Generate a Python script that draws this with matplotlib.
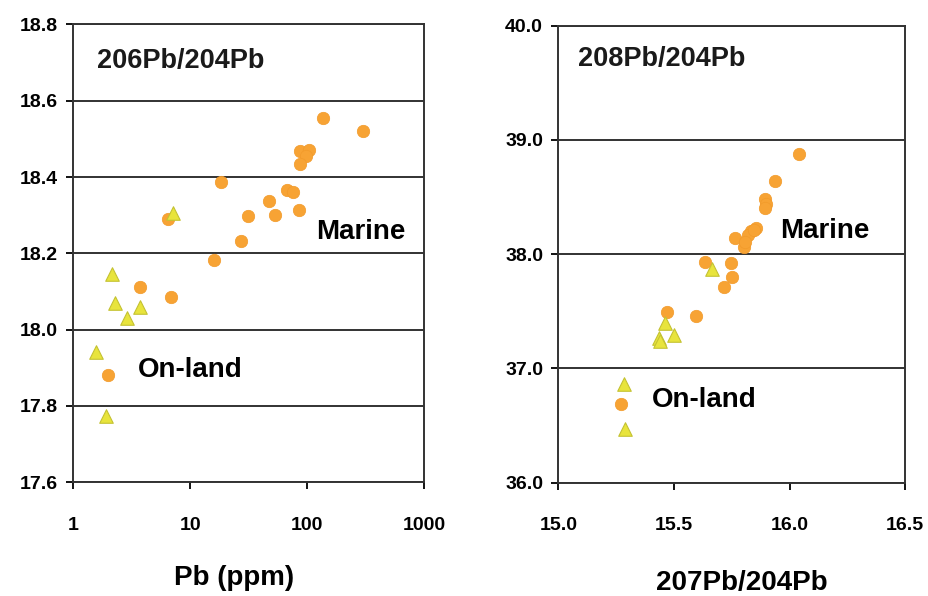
import matplotlib
matplotlib.use("Agg")
import matplotlib.pyplot as plt

plt.rcParams['font.family'] = ['Liberation Sans', 'DejaVu Sans']
plt.rcParams['font.weight'] = 'bold'

# left panel: Pb (ppm) vs 206Pb/204Pb
marine_pb = [137, 301, 87, 104, 98, 87, 18.4, 67, 76, 47, 31, 53, 85, 6.5, 27, 16, 3.7, 6.9, 2.0]
marine_206 = [18.556, 18.52, 18.468, 18.47, 18.455, 18.433, 18.386, 18.367, 18.362, 18.336,
              18.297, 18.30, 18.313, 18.289, 18.233, 18.183, 18.111, 18.086, 17.880]
land_pb = [7.2, 2.15, 2.3, 3.7, 2.9, 1.57, 1.91]
land_206 = [18.305, 18.147, 18.071, 18.058, 18.031, 17.942, 17.773]

# right panel: 207Pb/204Pb vs 208Pb/204Pb
marine_207 = [16.042, 15.938, 15.895, 15.899, 15.893, 15.763, 15.835, 15.856, 15.82, 15.845,
              15.803, 15.807, 15.634, 15.746, 15.752, 15.717, 15.47, 15.595, 15.27]
marine_208 = [38.88, 38.64, 38.48, 38.44, 38.40, 38.14, 38.20, 38.23, 38.17, 38.21,
              38.06, 38.11, 37.93, 37.92, 37.80, 37.71, 37.49, 37.46, 36.69]
land_207 = [15.666, 15.463, 15.434, 15.441, 15.498, 15.282, 15.288]
land_208 = [37.87, 37.40, 37.27, 37.24, 37.29, 36.86, 36.47]

circle_col = '#f7a334'
circle_edge = '#f29a2a'
tri_col = '#e8e43c'
tri_edge = '#c4c232'

fig = plt.figure(figsize=(9.29, 5.96), dpi=100)
ax1 = fig.add_axes([0.0786, 0.191, 0.378, 0.768])
ax2 = fig.add_axes([0.601, 0.190, 0.3735, 0.767])

ax1.scatter(marine_pb, marine_206, s=80, marker='o', c=circle_col, edgecolors=circle_edge,
            linewidths=0.5, zorder=3)
ax1.scatter(land_pb, land_206, s=95, marker='^', c=tri_col, edgecolors=tri_edge,
            linewidths=0.8, zorder=3)
ax1.set_xscale('log')
ax1.set_xlim(1, 1000)
ax1.set_ylim(17.6, 18.8)
ax1.set_xticks([1, 10, 100, 1000])
ax1.set_xticklabels(['1', '10', '100', '1000'])
ax1.minorticks_off()
ax1.set_yticks([17.6, 17.8, 18.0, 18.2, 18.4, 18.6, 18.8])
ax1.set_yticklabels(['17.6', '17.8', '18.0', '18.2', '18.4', '18.6', '18.8'])

ax2.scatter(marine_207, marine_208, s=80, marker='o', c=circle_col, edgecolors=circle_edge,
            linewidths=0.5, zorder=3)
ax2.scatter(land_207, land_208, s=95, marker='^', c=tri_col, edgecolors=tri_edge,
            linewidths=0.8, zorder=3)
ax2.set_xlim(15.0, 16.5)
ax2.set_ylim(36.0, 40.0)
ax2.set_xticks([15.0, 15.5, 16.0, 16.5])
ax2.set_xticklabels(['15.0', '15.5', '16.0', '16.5'])
ax2.set_yticks([36, 37, 38, 39, 40])
ax2.set_yticklabels(['36.0', '37.0', '38.0', '39.0', '40.0'])

for ax in (ax1, ax2):
    ax.yaxis.grid(True, color='#222222', linewidth=1.3)
    ax.set_axisbelow(True)
    for sp in ax.spines.values():
        sp.set_linewidth(1.4)
        sp.set_color('#333333')
    ax.tick_params(axis='x', direction='out', length=5, width=1.3, pad=20, labelsize=14)
    ax.tick_params(axis='y', direction='out', length=5, width=1.3, pad=6, labelsize=14)
    for lab in ax.get_xticklabels() + ax.get_yticklabels():
        lab.set_fontweight('bold')

ax1.text(0.068, 0.921, '206Pb/204Pb', transform=ax1.transAxes, fontsize=19.5,
         fontweight='bold', va='center', ha='left', color='#1a1a1a')
ax1.text(0.692, 0.546, 'Marine', transform=ax1.transAxes, fontsize=20,
         fontweight='bold', va='center', ha='left')
ax1.text(0.185, 0.245, 'On-land', transform=ax1.transAxes, fontsize=20,
         fontweight='bold', va='center', ha='left')

ax2.text(0.056, 0.926, '208Pb/204Pb', transform=ax2.transAxes, fontsize=19.5,
         fontweight='bold', va='center', ha='left', color='#1a1a1a')
ax2.text(0.638, 0.551, 'Marine', transform=ax2.transAxes, fontsize=20,
         fontweight='bold', va='center', ha='left')
ax2.text(0.27, 0.182, 'On-land', transform=ax2.transAxes, fontsize=20,
         fontweight='bold', va='center', ha='left')

fig.text(234 / 929, 1 - 578 / 596, 'Pb (ppm)', fontsize=20, fontweight='bold',
         ha='center', va='center')
fig.text(742 / 929, 1 - 583 / 596, '207Pb/204Pb', fontsize=20, fontweight='bold',
         ha='center', va='center')

fig.savefig('out.png', dpi=100)
